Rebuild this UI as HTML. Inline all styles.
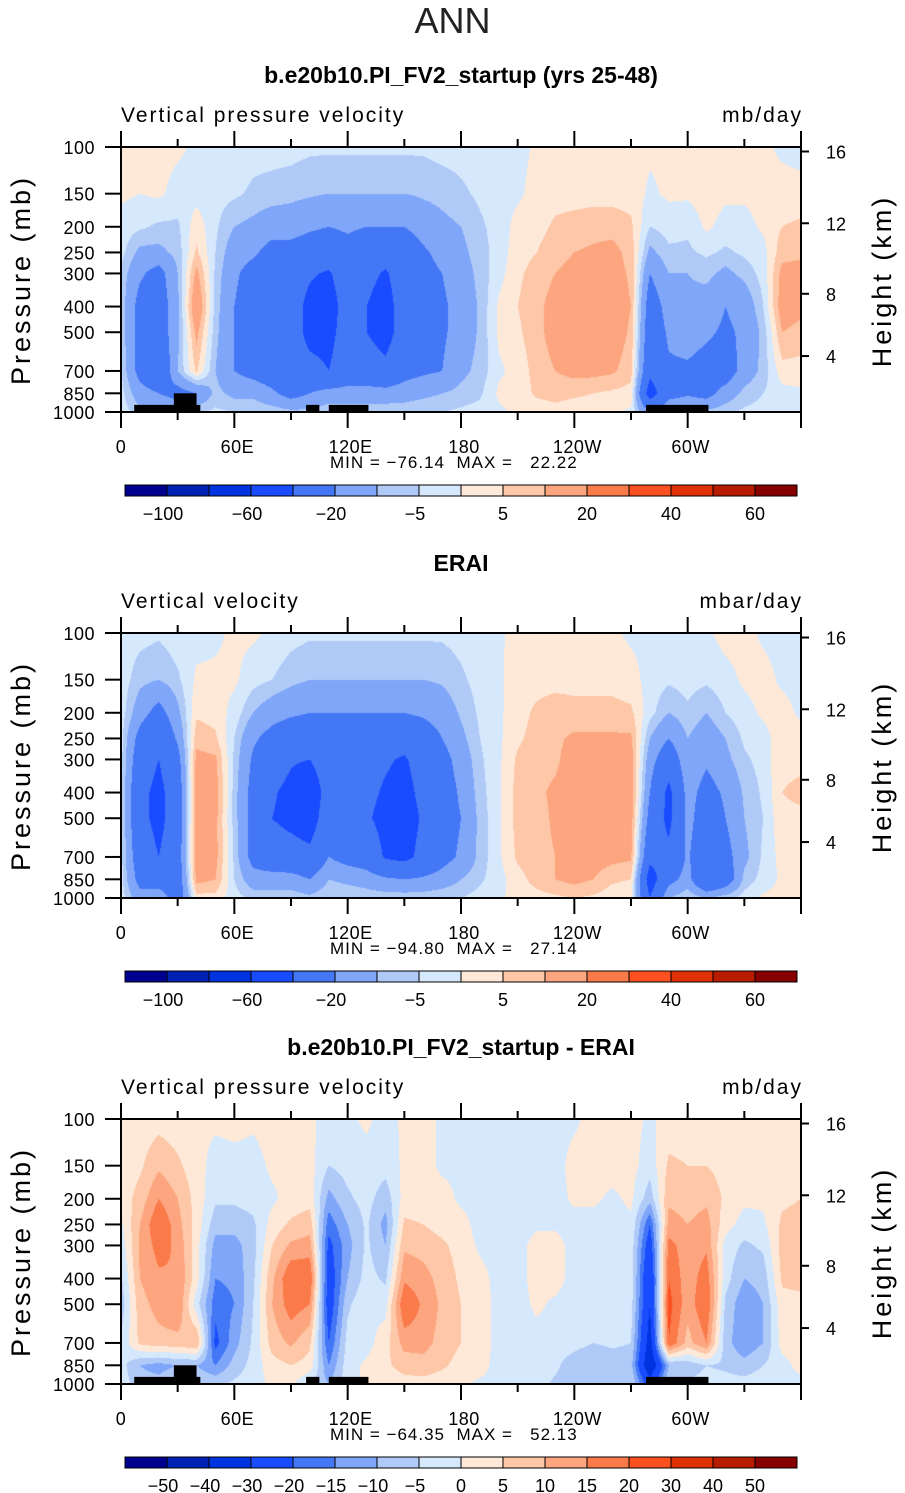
<!DOCTYPE html>
<html><head><meta charset="utf-8">
<style>
html,body{margin:0;padding:0;background:#fff;}
body{width:905px;height:1493px;position:relative;overflow:hidden;font-family:"Liberation Sans",sans-serif;color:#000;}
.t{position:absolute;white-space:nowrap;}
canvas{position:absolute;}
svg{position:absolute;left:0;top:0;}
</style></head>
<body>
<div class="t" style="left:0;width:905px;text-align:center;top:0px;font-size:36px;color:#222;">ANN</div>
<div class="t" style="left:21px;width:880px;text-align:center;top:62px;font-size:23px;font-weight:bold;">b.e20b10.PI_FV2_startup (yrs 25-48)</div>
<div class="t" style="left:21px;width:880px;text-align:center;top:550px;font-size:23px;font-weight:bold;">ERAI</div>
<div class="t" style="left:21px;width:880px;text-align:center;top:1034px;font-size:23px;font-weight:bold;">b.e20b10.PI_FV2_startup - ERAI</div>

<div class="t" style="left:121px;top:104px;font-size:21px;letter-spacing:2px;">Vertical pressure velocity</div>
<div class="t" style="right:102px;top:104px;font-size:21px;letter-spacing:2px;">mb/day</div>
<div class="t" style="left:121px;top:590px;font-size:21px;letter-spacing:2px;">Vertical velocity</div>
<div class="t" style="right:102px;top:590px;font-size:21px;letter-spacing:2px;">mbar/day</div>
<div class="t" style="left:121px;top:1076px;font-size:21px;letter-spacing:2px;">Vertical pressure velocity</div>
<div class="t" style="right:102px;top:1076px;font-size:21px;letter-spacing:2px;">mb/day</div>

<div class="t" style="left:330px;top:453px;font-size:17px;letter-spacing:1px;">MIN = −76.14 &nbsp;MAX = &nbsp;&nbsp;22.22</div>
<div class="t" style="left:330px;top:939px;font-size:17px;letter-spacing:1px;">MIN = −94.80 &nbsp;MAX = &nbsp;&nbsp;27.14</div>
<div class="t" style="left:330px;top:1425px;font-size:17px;letter-spacing:1px;">MIN = −64.35 &nbsp;MAX = &nbsp;&nbsp;52.13</div>

<canvas id="c0" width="680" height="265" style="left:121px;top:147px;"></canvas>
<canvas id="c1" width="680" height="265" style="left:121px;top:633px;"></canvas>
<canvas id="c2" width="680" height="265" style="left:121px;top:1119px;"></canvas>
<svg id="ov" width="905" height="1493"></svg>

<script>
const pLevels = [100,150,200,250,300,400,500,700,850,1000];
const lonTicks = [0,60,120,180,240,300];
const lonTickLabels = ["0","60E","120E","180","120W","60W"];
const heightTickP = [104,194,358,615];
const heightTickLabels = ["16","12","8","4"];
const levelsFull = [-100,-80,-60,-40,-20,-10,-5,0,5,10,20,30,40,50,60];
const levelsDiff = [-50,-40,-30,-20,-15,-10,-5,0,5,10,15,20,30,40,50];
const cbLabelsFull = ["−100","−60","−20","−5","5","20","40","60"];
const cbLabelIdxFull = [0,2,4,6,8,10,12,14];
const cbLabelsDiff = ["−50","−40","−30","−20","−15","−10","−5","0","5","10","15","20","30","40","50"];
const cbLabelIdxDiff = [0,1,2,3,4,5,6,7,8,9,10,11,12,13,14];
const palette = ["#000090","#0022b4","#0033e0","#1a4cff","#4477f5","#7fa6f8","#b0caf8","#d6e8fc","#fee9d8","#fdc7a8","#fca57f","#fb7a4a","#fc5020","#e03005","#b81c00","#860000"];
const landBoxes = [[7,42,940],[28,40,850],[98,105,940],[110,131,940],[278,311,940]];

const fieldModel = [
[1,1,-2,-3,-6,-6,-6,-4,-3,-2],
[2,0,-4,-12,-18,-25,-25,-25,-15,-8],
[2,1,-6,-12,-25,-28,-28,-35,-20,-10],
[1,-2,-6,-8,-10,-12,-12,-10,-25,-10],
[-1,-2,3,6,12,18,12,6,-20,-5],
[-2,-3,-4,-5,-6,-7,-8,-10,-8,-4],
[-2,-4,-10,-15,-18,-20,-20,-20,-12,-5],
[-3,-6,-12,-18,-25,-28,-28,-25,-12,-5],
[-3,-7,-15,-25,-28,-30,-30,-28,-18,-6],
[-3,-8,-15,-25,-30,-32,-32,-30,-25,-8],
[-4,-9,-18,-28,-38,-45,-45,-35,-20,-8],
[-4,-10,-20,-30,-42,-48,-45,-40,-15,-6],
[-4,-10,-18,-25,-30,-32,-32,-30,-15,-6],
[-4,-10,-20,-30,-35,-40,-40,-30,-15,-6],
[-4,-10,-20,-32,-42,-48,-48,-35,-15,-6],
[-4,-10,-20,-30,-30,-30,-30,-25,-14,-6],
[-4,-9,-15,-22,-25,-25,-25,-22,-12,-5],
[-3,-8,-12,-16,-20,-22,-22,-20,-10,-5],
[-3,-6,-10,-12,-14,-16,-15,-12,-8,-4],
[-2,-4,-6,-7,-8,-9,-9,-8,-6,-3],
[-1,-2,-3,-3,-2,1,1,-1,1,-1],
[-2,-1,2,3,4,5,4,2,2,1],
[1,2,3,5,7,8,8,7,6,2],
[2,3,6,8,10,13,13,10,7,3],
[2,3,7,10,12,14,14,12,6,2],
[2,3,8,11,13,14,14,12,5,2],
[2,3,8,12,13,14,14,11,4,1],
[2,3,6,8,9,10,9,7,3,-1],
[1,-1,-5,-12,-20,-28,-30,-35,-50,-20],
[1,1,-3,-6,-10,-15,-18,-22,-25,-10],
[2,1,-4,-6,-10,-12,-15,-22,-22,-8],
[2,3,1,-4,-8,-14,-18,-25,-25,-8],
[2,1,-2,-6,-12,-20,-22,-28,-15,-6],
[2,1,-2,-4,-8,-16,-18,-15,-8,-4],
[1,2,1,-2,-3,-5,-8,-8,-5,-3],
[-1,2,5,8,12,14,10,3,-2,-2],
[-2,2,6,9,12,12,8,3,-1,-2]
];
const fieldObs = [
[-2,-2,-2,-3,-3,-3,-3,-3,-3,-2],
[-3,-8,-15,-25,-30,-35,-35,-30,-25,-15],
[-4,-10,-25,-35,-40,-45,-45,-40,-30,-10],
[-2,-6,-12,-18,-25,-30,-30,-28,-30,-30],
[-2,1,4,8,12,14,14,14,12,3],
[-1,1,3,6,11,13,12,12,10,3],
[1,1,-2,-5,-6,-7,-7,-6,-5,-3],
[1,-3,-10,-18,-22,-25,-25,-25,-15,-6],
[-1,-5,-15,-25,-30,-38,-40,-30,-15,-6],
[-3,-8,-18,-30,-38,-45,-45,-32,-15,-6],
[-4,-10,-20,-30,-40,-55,-50,-35,-20,-8],
[-4,-10,-20,-25,-28,-30,-28,-20,-10,-5],
[-4,-10,-20,-28,-32,-35,-32,-25,-12,-5],
[-4,-10,-20,-28,-34,-36,-38,-28,-14,-6],
[-4,-10,-20,-30,-38,-42,-45,-42,-18,-6],
[-4,-10,-20,-32,-42,-46,-48,-45,-20,-6],
[-4,-10,-18,-28,-32,-35,-38,-35,-18,-6],
[-4,-9,-15,-20,-25,-28,-28,-25,-15,-5],
[-3,-6,-9,-12,-15,-18,-20,-18,-10,-5],
[-2,-3,-4,-5,-6,-7,-8,-8,-6,-3],
[-1,-1,-1,-1,-1,-1,-1,-1,-2,-1],
[2,3,3,4,6,7,7,6,3,2],
[2,3,6,7,8,9,8,8,7,3],
[2,3,8,9,9,11,11,10,10,4],
[2,3,7,11,13,14,14,13,12,5],
[2,3,7,11,13,14,14,13,10,4],
[1,3,7,11,13,14,13,12,6,2],
[-1,2,6,11,13,14,13,11,5,1],
[-1,-2,-3,-10,-15,-20,-25,-35,-50,-40],
[-2,-4,-10,-20,-30,-45,-45,-35,-25,-10],
[-1,-3,-6,-10,-12,-15,-15,-18,-15,-5],
[-1,-4,-10,-15,-18,-25,-30,-35,-40,-10],
[2,-2,-5,-10,-12,-18,-20,-25,-30,-6],
[2,1,-2,-4,-6,-9,-10,-12,-8,-3],
[-1,2,1,-2,-3,-4,-5,-4,-3,1],
[-2,-1,2,3,4,5,4,2,1,2],
[-2,-2,-1,2,4,6,4,2,2,2]
];
const fieldDiff = [
[2,2,2,-1,-3,-6,-8,-4,-3,-2],
[2,4,7,10,11,10,8,6,-10,-8],
[3,9,15,20,17,14,12,8,-12,-8],
[2,6,10,12,14,15,15,8,-10,-5],
[1,2,3,3,2,2,-3,10,-10,-5],
[1,-2,-4,-8,-12,-15,-18,-22,-15,-6],
[2,-2,-4,-8,-12,-14,-15,-12,-8,-4],
[1,-2,-3,-6,-7,-6,-5,-4,-3,-2],
[2,1,-1,2,5,9,10,7,3,1],
[2,1,2,6,11,20,18,11,5,1],
[1,2,3,8,12,20,15,6,3,-5],
[-2,-5,-12,-18,-22,-25,-25,-20,-15,-10],
[-1,-3,-6,-10,-12,-10,-6,-3,-2,-2],
[1,-2,-3,-4,-4,-3,-1,-2,1,1],
[-2,-3,-8,-12,-10,-6,-2,3,4,2],
[1,1,2,6,9,14,20,12,7,3],
[2,2,2,5,8,12,14,12,8,3],
[-1,-1,2,3,6,8,9,8,6,2],
[-2,-1,-1,2,3,4,5,5,3,1],
[-2,-2,-2,-2,-1,2,3,3,2,-1],
[-2,-2,-2,-2,-2,-2,-2,-2,-2,-1],
[-2,-2,-2,-2,-2,-2,-2,-2,-2,-2],
[-2,-2,-2,-1,2,2,1,-2,-2,-3],
[-2,-2,-2,-1,2,2,-1,-2,-4,-6],
[-1,2,1,-2,-2,-2,-2,-3,-8,-6],
[2,2,1,-2,-2,-2,-2,-5,-10,-8],
[2,2,-1,-2,-2,-2,-2,-4,-8,-6],
[2,2,1,-1,-2,-2,-3,-5,-8,-5],
[-1,-3,-8,-20,-25,-30,-30,-35,-40,-25],
[2,6,9,12,17,20,22,20,-10,-5],
[2,5,8,10,12,12,12,8,-8,-4],
[2,5,9,12,14,18,20,15,-5,-3],
[2,3,4,2,-2,-3,-6,-8,-6,-3],
[2,2,1,-2,-6,-10,-14,-14,-8,-3],
[2,2,1,-1,-4,-8,-10,-10,-5,-2],
[2,2,4,6,7,6,3,2,-2,-2],
[2,2,5,7,8,7,3,2,2,-2]
];

const W=680,H=265,X0=121;
const panelTops=[147,633,1119];
function yOfP(p){return H*Math.log10(p/100);}
function xOfLon(l){return l*W/360;}
function colorIdx(v,lv){let i=0;while(i<lv.length&&v>lv[i])i++;return i;}
function hexToRgb(h){return [parseInt(h.substr(1,2),16),parseInt(h.substr(3,2),16),parseInt(h.substr(5,2),16)];}
const palRgb=palette.map(hexToRgb);
const logP=pLevels.map(p=>Math.log10(p));

function drawField(canvasId,field,lv){
  const cv=document.getElementById(canvasId),ctx=cv.getContext('2d');
  const img=ctx.createImageData(W,H);
  const nLon=field.length;
  for(let y=0;y<H;y++){
    const lp=Math.log10(100)+(y+0.5)/H;
    let j=0;while(j<pLevels.length-2&&lp>logP[j+1])j++;
    let t=(lp-logP[j])/(logP[j+1]-logP[j]);t=Math.max(0,Math.min(1,t));
    for(let x=0;x<W;x++){
      const lon=(x+0.5)*360/W;
      let i=Math.floor(lon/10);if(i>nLon-2)i=nLon-2;
      const s=(lon-i*10)/10;
      const a=field[i][j]*(1-t)+field[i][j+1]*t;
      const b=field[i+1][j]*(1-t)+field[i+1][j+1]*t;
      const v=a*(1-s)+b*s;
      const c=palRgb[colorIdx(v,lv)];
      const k=(y*W+x)*4;
      img.data[k]=c[0];img.data[k+1]=c[1];img.data[k+2]=c[2];img.data[k+3]=255;
    }
  }
  ctx.putImageData(img,0,0);
}
drawField('c0',fieldModel,levelsFull);
drawField('c1',fieldObs,levelsFull);
drawField('c2',fieldDiff,levelsDiff);

const NS="http://www.w3.org/2000/svg";
const ov=document.getElementById('ov');
function mk(tag,attrs,parent){const e=document.createElementNS(NS,tag);for(const k in attrs)e.setAttribute(k,attrs[k]);(parent||ov).appendChild(e);return e;}

panelTops.forEach((T,pi)=>{
  const g=mk('g',{});
  
  
  if(pi!==1){
    landBoxes.forEach(b=>{
      const r=mk('rect',{x:X0+xOfLon(b[0]),y:T+yOfP(b[2]),width:xOfLon(b[1])-xOfLon(b[0]),height:H-yOfP(b[2]),fill:'#000'},g);
      
      
    });
  }
  const fr=mk('rect',{x:X0,y:T,width:W,height:H,fill:'none',stroke:'#000','stroke-width':2},g);
  
  
  for(let l=0;l<=360;l+=30){
    const x=X0+xOfLon(l),len=(l%60===0)?16:8;
    mk('line',{x1:x,y1:T+H,x2:x,y2:T+H+len,stroke:'#000','stroke-width':2},g);
    mk('line',{x1:x,y1:T,x2:x,y2:T-len,stroke:'#000','stroke-width':2},g);
  }
  lonTicks.forEach((l,k)=>{
    const t=mk('text',{x:X0+xOfLon(l)+(l===0?0:3),y:T+H+41,'text-anchor':'middle','font-size':18,'letter-spacing':0.5,'font-family':'Liberation Sans, sans-serif'},g);
    t.textContent=lonTickLabels[k];
    
    
  });
  pLevels.forEach(p=>{
    const y=T+yOfP(p);
    mk('line',{x1:X0,y1:y,x2:X0-16,y2:y,stroke:'#000','stroke-width':2},g);
    const t=mk('text',{x:95,y:y+7,'text-anchor':'end','font-size':18,'letter-spacing':0.5,'font-family':'Liberation Sans, sans-serif'},g);
    t.textContent=String(p);
    
    
  });
  heightTickP.forEach((p,k)=>{
    const y=T+yOfP(p);
    mk('line',{x1:X0+W,y1:y,x2:X0+W+8,y2:y,stroke:'#000','stroke-width':2},g);
    const t=mk('text',{x:826,y:y+7,'font-size':18,'font-family':'Liberation Sans, sans-serif'},g);
    t.textContent=heightTickLabels[k];
    
    
  });
  const yl=mk('text',{x:0,y:0,transform:`translate(30,${T+133}) rotate(-90)`,'text-anchor':'middle','font-size':27,'letter-spacing':3,'font-family':'Liberation Sans, sans-serif'},g);
  yl.textContent='Pressure (mb)';
  
  
  const yr=mk('text',{x:0,y:0,transform:`translate(891,${T+134}) rotate(-90)`,'text-anchor':'middle','font-size':27,'letter-spacing':3,'font-family':'Liberation Sans, sans-serif'},g);
  yr.textContent='Height (km)';
  
  
  const cbY=T+338, cbX=125, bw=42;
  const isDiff=(pi===2);
  palette.forEach((c,k)=>{
    const r=mk('rect',{x:cbX+k*bw,y:cbY,width:bw,height:11,fill:c,stroke:'#000','stroke-width':1},g);
    
    
  });
  const labs=isDiff?cbLabelsDiff:cbLabelsFull, idx=isDiff?cbLabelIdxDiff:cbLabelIdxFull;
  labs.forEach((s,k)=>{
    const t=mk('text',{x:cbX+(idx[k]+1)*bw-(s.startsWith('−')?4:0),y:cbY+35,'text-anchor':'middle','font-size':18,'font-family':'Liberation Sans, sans-serif'},g);
    t.textContent=s;
    
    
  });
});
</script>
</body></html>
